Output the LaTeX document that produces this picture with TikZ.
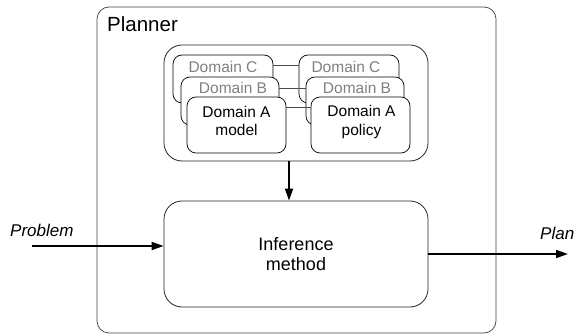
\documentclass[tikz,border=0pt]{standalone}
\usepackage{fontspec}
\setmainfont{Liberation Sans}
\usetikzlibrary{arrows.meta}

\begin{document}
\begin{tikzpicture}[x=1pt,y=-1pt,
    bigbox/.style={draw=black!75,line width=0.7pt,rounded corners=12pt,inner sep=0pt},
    roundbox/.style={draw=black!85,line width=0.8pt,rounded corners=18pt,inner sep=0pt,fill=white},
    dombox/.style={draw=black,line width=0.7pt,rounded corners=9pt,fill=white,inner sep=0pt},
    link/.style={draw=black!70,line width=0.8pt},
    flow/.style={line width=1.8pt,-{Triangle[length=12pt,width=8pt]}},
    domtext/.style={font=\fontsize{15.5}{18.5}\selectfont,align=center,inner sep=0pt},
    iotext/.style={font=\itshape\fontsize{17}{20}\selectfont,inner sep=0pt}]
    \useasboundingbox (0,0) rectangle (575,336);
    \node[bigbox,minimum width=399pt,minimum height=326pt] (planner) at (296.5,170) {};
    \node[anchor=base west,inner sep=0pt,font=\fontsize{20.5}{24}\selectfont] (plannername) at (107,32) {Planner};
    \node[roundbox,minimum width=264pt,minimum height=116pt] (domains) at (296,103) {};
    \node[roundbox,minimum width=264pt,minimum height=106pt,align=center,
          font=\fontsize{18}{20.5}\selectfont] (infer) at (296,254) {Inference\\method};
    % domain C
    \node[dombox,minimum width=100pt,minimum height=48pt] (lc) at (223,79) {};
    \node[dombox,minimum width=100pt,minimum height=48pt] (rc) at (349,79) {};
    \node[domtext,text=black!50] (lctext) at (223,67) {Domain C};
    \node[domtext,text=black!50] (rctext) at (346,67) {Domain C};
    \draw[link] ([yshift=-11pt]lc.north east) -- ([yshift=-11pt]rc.north west);
    % domain B
    \node[dombox,minimum width=98pt,minimum height=48pt] (lb) at (230,101) {};
    \node[dombox,minimum width=98pt,minimum height=48pt] (rb) at (355,101) {};
    \node[domtext,text=black!50] (lbtext) at (233,88) {Domain B};
    \node[domtext,text=black!50] (rbtext) at (357,88) {Domain B};
    \draw[link] ([yshift=-12pt]lb.north east) -- ([yshift=-12pt]rb.north west);
    % domain A
    \node[dombox,minimum width=99pt,minimum height=56pt] (la) at (236.5,125) {};
    \node[dombox,minimum width=99pt,minimum height=56pt] (ra) at (360.5,125) {};
    \node[domtext] (latext) at ([yshift=4pt]la.center) {Domain A\\model};
    \node[domtext] (ratext) at ([xshift=1pt,yshift=3pt]ra.center) {Domain A\\policy};
    \draw[link] ([yshift=-11pt]la.north east) -- ([yshift=-11pt]ra.north west);
    % flows
    \draw[flow] ([xshift=-7pt]domains.south) -- ([xshift=-7pt]infer.north);
    \coordinate (probin) at (32,246);
    \coordinate (planout) at (568,254);
    \draw[flow] (probin) -- (probin -| infer.west);
    \draw[flow] (planout -| infer.east) -- (planout);
    \node[iotext,anchor=base west] (problabel) at (10,237) {Problem};
    \node[iotext,anchor=base west] (planlabel) at (540,240) {Plan};
\end{tikzpicture}
\end{document}
